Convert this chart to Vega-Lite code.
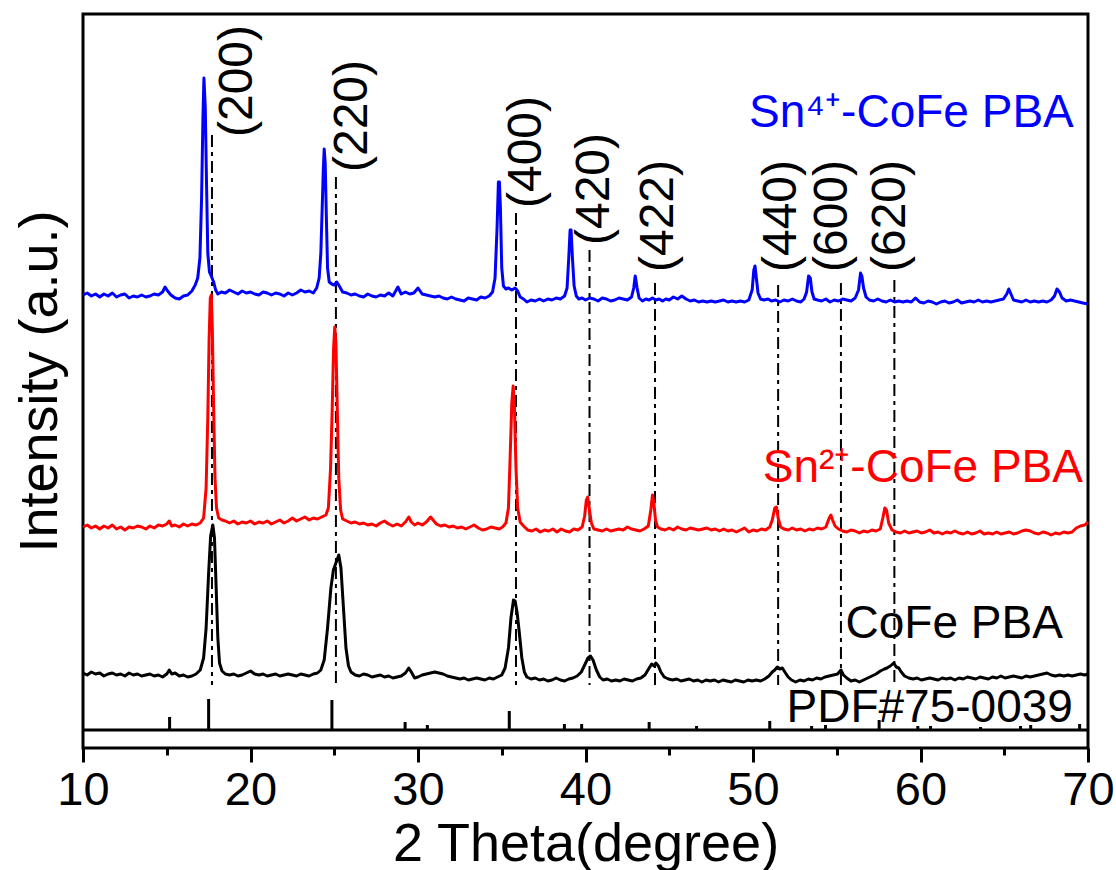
{
"$schema": "https://vega.github.io/schema/vega-lite/v6.json",
"width": 1005, "height": 734,
"autosize": {"type": "none"},
"padding": {"left": 83, "top": 14, "right": 28, "bottom": 122},
"background": "white",
"config": {"font": "Liberation Sans", "view": {"stroke": "black", "strokeWidth": 3}, "axis": {"grid": false}},
"datasets": {
"sn4": [
{"theta":10.0,"intensity":453},{"theta":10.25,"intensity":455},{"theta":10.5,"intensity":452},{"theta":10.75,"intensity":454},{"theta":11.0,"intensity":451},{"theta":11.25,"intensity":454},{"theta":11.5,"intensity":452},{"theta":11.75,"intensity":455},{"theta":12.0,"intensity":451},{"theta":12.25,"intensity":453},{"theta":12.5,"intensity":454},{"theta":12.75,"intensity":450},{"theta":13.0,"intensity":452},{"theta":13.25,"intensity":451},{"theta":13.5,"intensity":453},{"theta":13.75,"intensity":451},{"theta":14.0,"intensity":452},{"theta":14.25,"intensity":454},{"theta":14.5,"intensity":453},{"theta":14.75,"intensity":456},{"theta":14.9,"intensity":461},{"theta":15.05,"intensity":457},{"theta":15.25,"intensity":453},{"theta":15.5,"intensity":450},{"theta":15.75,"intensity":449},{"theta":16.0,"intensity":452},{"theta":16.25,"intensity":453},{"theta":16.5,"intensity":457},{"theta":16.7,"intensity":463},{"theta":16.85,"intensity":470},{"theta":16.98,"intensity":490},{"theta":17.08,"intensity":550},{"theta":17.16,"intensity":630},{"theta":17.22,"intensity":670},{"theta":17.3,"intensity":640},{"theta":17.38,"intensity":560},{"theta":17.45,"intensity":495},{"theta":17.55,"intensity":476},{"theta":17.68,"intensity":471},{"theta":17.8,"intensity":466},{"theta":17.92,"intensity":458},{"theta":18.05,"intensity":454},{"theta":18.25,"intensity":456},{"theta":18.5,"intensity":455},{"theta":18.75,"intensity":458},{"theta":19.0,"intensity":456},{"theta":19.25,"intensity":454},{"theta":19.5,"intensity":457},{"theta":19.75,"intensity":455},{"theta":20.0,"intensity":456},{"theta":20.25,"intensity":454},{"theta":20.5,"intensity":453},{"theta":20.75,"intensity":456},{"theta":21.0,"intensity":455},{"theta":21.25,"intensity":453},{"theta":21.5,"intensity":455},{"theta":21.75,"intensity":454},{"theta":22.0,"intensity":452},{"theta":22.25,"intensity":455},{"theta":22.5,"intensity":453},{"theta":22.75,"intensity":455},{"theta":23.0,"intensity":458},{"theta":23.25,"intensity":456},{"theta":23.5,"intensity":457},{"theta":23.75,"intensity":455},{"theta":23.95,"intensity":460},{"theta":24.1,"intensity":470},{"theta":24.2,"intensity":495},{"theta":24.28,"intensity":540},{"theta":24.35,"intensity":580},{"theta":24.4,"intensity":599},{"theta":24.46,"intensity":585},{"theta":24.53,"intensity":530},{"theta":24.6,"intensity":480},{"theta":24.7,"intensity":466},{"theta":24.85,"intensity":464},{"theta":25.0,"intensity":463},{"theta":25.15,"intensity":466},{"theta":25.3,"intensity":462},{"theta":25.5,"intensity":456},{"theta":25.75,"intensity":455},{"theta":26.0,"intensity":453},{"theta":26.25,"intensity":454},{"theta":26.5,"intensity":452},{"theta":26.75,"intensity":451},{"theta":27.0,"intensity":454},{"theta":27.25,"intensity":452},{"theta":27.5,"intensity":451},{"theta":27.75,"intensity":453},{"theta":28.0,"intensity":452},{"theta":28.25,"intensity":455},{"theta":28.5,"intensity":452},{"theta":28.8,"intensity":461},{"theta":29.0,"intensity":454},{"theta":29.25,"intensity":456},{"theta":29.5,"intensity":454},{"theta":29.75,"intensity":455},{"theta":30.0,"intensity":460},{"theta":30.25,"intensity":454},{"theta":30.5,"intensity":453},{"theta":30.75,"intensity":452},{"theta":31.0,"intensity":451},{"theta":31.25,"intensity":452},{"theta":31.5,"intensity":450},{"theta":31.75,"intensity":449},{"theta":32.0,"intensity":451},{"theta":32.25,"intensity":449},{"theta":32.5,"intensity":448},{"theta":32.75,"intensity":447},{"theta":33.0,"intensity":450},{"theta":33.25,"intensity":449},{"theta":33.5,"intensity":448},{"theta":33.75,"intensity":451},{"theta":34.0,"intensity":450},{"theta":34.25,"intensity":452},{"theta":34.45,"intensity":456},{"theta":34.6,"intensity":470},{"theta":34.72,"intensity":520},{"theta":34.8,"intensity":566},{"theta":34.86,"intensity":566},{"theta":34.92,"intensity":540},{"theta":35.0,"intensity":480},{"theta":35.1,"intensity":462},{"theta":35.25,"intensity":459},{"theta":35.4,"intensity":460},{"theta":35.6,"intensity":458},{"theta":35.8,"intensity":460},{"theta":35.95,"intensity":457},{"theta":36.1,"intensity":451},{"theta":36.3,"intensity":449},{"theta":36.5,"intensity":446},{"theta":36.75,"intensity":448},{"theta":37.0,"intensity":447},{"theta":37.25,"intensity":449},{"theta":37.5,"intensity":447},{"theta":37.75,"intensity":449},{"theta":38.0,"intensity":448},{"theta":38.25,"intensity":450},{"theta":38.5,"intensity":449},{"theta":38.75,"intensity":452},{"theta":38.9,"intensity":460},{"theta":39.0,"intensity":490},{"theta":39.08,"intensity":518},{"theta":39.14,"intensity":518},{"theta":39.22,"intensity":490},{"theta":39.32,"intensity":462},{"theta":39.45,"intensity":452},{"theta":39.6,"intensity":449},{"theta":39.8,"intensity":450},{"theta":40.0,"intensity":448},{"theta":40.25,"intensity":450},{"theta":40.5,"intensity":449},{"theta":40.75,"intensity":447},{"theta":41.0,"intensity":450},{"theta":41.25,"intensity":449},{"theta":41.5,"intensity":447},{"theta":41.75,"intensity":448},{"theta":42.0,"intensity":450},{"theta":42.25,"intensity":449},{"theta":42.5,"intensity":448},{"theta":42.75,"intensity":451},{"theta":42.88,"intensity":460},{"theta":42.97,"intensity":472},{"theta":43.08,"intensity":460},{"theta":43.2,"intensity":450},{"theta":43.4,"intensity":447},{"theta":43.6,"intensity":449},{"theta":43.8,"intensity":448},{"theta":44.0,"intensity":450},{"theta":44.2,"intensity":448},{"theta":44.4,"intensity":449},{"theta":44.6,"intensity":447},{"theta":44.8,"intensity":449},{"theta":45.0,"intensity":448},{"theta":45.25,"intensity":451},{"theta":45.5,"intensity":449},{"theta":45.75,"intensity":452},{"theta":46.0,"intensity":449},{"theta":46.25,"intensity":447},{"theta":46.5,"intensity":448},{"theta":46.75,"intensity":446},{"theta":47.0,"intensity":447},{"theta":47.25,"intensity":446},{"theta":47.5,"intensity":447},{"theta":47.75,"intensity":446},{"theta":48.0,"intensity":447},{"theta":48.25,"intensity":448},{"theta":48.5,"intensity":446},{"theta":48.75,"intensity":447},{"theta":49.0,"intensity":446},{"theta":49.25,"intensity":447},{"theta":49.5,"intensity":446},{"theta":49.75,"intensity":448},{"theta":49.95,"intensity":458},{"theta":50.05,"intensity":478},{"theta":50.12,"intensity":482},{"theta":50.2,"intensity":470},{"theta":50.3,"intensity":455},{"theta":50.45,"intensity":449},{"theta":50.65,"intensity":448},{"theta":50.9,"intensity":449},{"theta":51.1,"intensity":447},{"theta":51.35,"intensity":448},{"theta":51.6,"intensity":446},{"theta":51.85,"intensity":448},{"theta":52.1,"intensity":447},{"theta":52.35,"intensity":449},{"theta":52.6,"intensity":447},{"theta":52.85,"intensity":446},{"theta":53.05,"intensity":449},{"theta":53.2,"intensity":456},{"theta":53.32,"intensity":472},{"theta":53.42,"intensity":470},{"theta":53.52,"intensity":456},{"theta":53.65,"intensity":449},{"theta":53.85,"intensity":448},{"theta":54.1,"intensity":447},{"theta":54.35,"intensity":449},{"theta":54.6,"intensity":446},{"theta":54.85,"intensity":448},{"theta":55.1,"intensity":447},{"theta":55.35,"intensity":449},{"theta":55.6,"intensity":448},{"theta":55.85,"intensity":447},{"theta":56.1,"intensity":450},{"theta":56.3,"intensity":458},{"theta":56.42,"intensity":475},{"theta":56.5,"intensity":472},{"theta":56.6,"intensity":460},{"theta":56.75,"intensity":451},{"theta":56.95,"intensity":448},{"theta":57.2,"intensity":447},{"theta":57.45,"intensity":449},{"theta":57.7,"intensity":447},{"theta":57.95,"intensity":446},{"theta":58.2,"intensity":448},{"theta":58.45,"intensity":446},{"theta":58.7,"intensity":447},{"theta":58.95,"intensity":446},{"theta":59.2,"intensity":447},{"theta":59.45,"intensity":446},{"theta":59.7,"intensity":450},{"theta":59.95,"intensity":446},{"theta":60.2,"intensity":445},{"theta":60.45,"intensity":447},{"theta":60.7,"intensity":446},{"theta":60.95,"intensity":444},{"theta":61.2,"intensity":446},{"theta":61.45,"intensity":447},{"theta":61.7,"intensity":445},{"theta":61.95,"intensity":446},{"theta":62.2,"intensity":448},{"theta":62.45,"intensity":445},{"theta":62.7,"intensity":446},{"theta":62.95,"intensity":447},{"theta":63.2,"intensity":446},{"theta":63.45,"intensity":448},{"theta":63.7,"intensity":446},{"theta":63.95,"intensity":447},{"theta":64.2,"intensity":446},{"theta":64.45,"intensity":447},{"theta":64.7,"intensity":448},{"theta":64.95,"intensity":449},{"theta":65.15,"intensity":454},{"theta":65.27,"intensity":459},{"theta":65.4,"intensity":454},{"theta":65.55,"intensity":448},{"theta":65.8,"intensity":447},{"theta":66.05,"intensity":446},{"theta":66.3,"intensity":448},{"theta":66.55,"intensity":446},{"theta":66.8,"intensity":447},{"theta":67.05,"intensity":446},{"theta":67.3,"intensity":447},{"theta":67.55,"intensity":446},{"theta":67.8,"intensity":448},{"theta":68.0,"intensity":452},{"theta":68.15,"intensity":459},{"theta":68.3,"intensity":456},{"theta":68.45,"intensity":450},{"theta":68.7,"intensity":447},{"theta":68.95,"intensity":448},{"theta":69.2,"intensity":447},{"theta":69.45,"intensity":446},{"theta":69.7,"intensity":445},{"theta":70.0,"intensity":444}
],
"sn2": [
{"theta":10.0,"intensity":221},{"theta":10.25,"intensity":223},{"theta":10.5,"intensity":220},{"theta":10.75,"intensity":222},{"theta":11.0,"intensity":219},{"theta":11.25,"intensity":222},{"theta":11.5,"intensity":220},{"theta":11.75,"intensity":223},{"theta":12.0,"intensity":219},{"theta":12.25,"intensity":221},{"theta":12.5,"intensity":218},{"theta":12.75,"intensity":221},{"theta":13.0,"intensity":220},{"theta":13.25,"intensity":222},{"theta":13.5,"intensity":221},{"theta":13.75,"intensity":219},{"theta":14.0,"intensity":222},{"theta":14.25,"intensity":220},{"theta":14.5,"intensity":223},{"theta":14.75,"intensity":222},{"theta":15.0,"intensity":224},{"theta":15.15,"intensity":227},{"theta":15.3,"intensity":222},{"theta":15.5,"intensity":223},{"theta":15.75,"intensity":221},{"theta":16.0,"intensity":224},{"theta":16.25,"intensity":222},{"theta":16.5,"intensity":224},{"theta":16.75,"intensity":223},{"theta":17.0,"intensity":225},{"theta":17.2,"intensity":230},{"theta":17.35,"intensity":260},{"theta":17.45,"intensity":330},{"theta":17.53,"intensity":410},{"theta":17.6,"intensity":450},{"theta":17.66,"intensity":453},{"theta":17.72,"intensity":420},{"theta":17.8,"intensity":340},{"theta":17.88,"intensity":270},{"theta":17.97,"intensity":240},{"theta":18.1,"intensity":230},{"theta":18.3,"intensity":228},{"theta":18.5,"intensity":227},{"theta":18.75,"intensity":225},{"theta":19.0,"intensity":227},{"theta":19.25,"intensity":224},{"theta":19.5,"intensity":226},{"theta":19.75,"intensity":225},{"theta":20.0,"intensity":227},{"theta":20.25,"intensity":224},{"theta":20.5,"intensity":226},{"theta":20.75,"intensity":225},{"theta":21.0,"intensity":227},{"theta":21.25,"intensity":224},{"theta":21.5,"intensity":226},{"theta":21.75,"intensity":228},{"theta":22.0,"intensity":225},{"theta":22.25,"intensity":227},{"theta":22.5,"intensity":230},{"theta":22.75,"intensity":227},{"theta":23.0,"intensity":229},{"theta":23.25,"intensity":231},{"theta":23.5,"intensity":228},{"theta":23.75,"intensity":230},{"theta":24.0,"intensity":229},{"theta":24.25,"intensity":231},{"theta":24.5,"intensity":233},{"theta":24.65,"intensity":240},{"theta":24.78,"intensity":280},{"theta":24.88,"intensity":340},{"theta":24.96,"intensity":400},{"theta":25.03,"intensity":421},{"theta":25.1,"intensity":405},{"theta":25.18,"intensity":340},{"theta":25.27,"intensity":270},{"theta":25.38,"intensity":238},{"theta":25.5,"intensity":229},{"theta":25.75,"intensity":227},{"theta":26.0,"intensity":225},{"theta":26.25,"intensity":226},{"theta":26.5,"intensity":224},{"theta":26.75,"intensity":225},{"theta":27.0,"intensity":223},{"theta":27.25,"intensity":224},{"theta":27.5,"intensity":222},{"theta":27.75,"intensity":225},{"theta":28.0,"intensity":227},{"theta":28.25,"intensity":224},{"theta":28.5,"intensity":222},{"theta":28.75,"intensity":224},{"theta":29.0,"intensity":222},{"theta":29.25,"intensity":226},{"theta":29.45,"intensity":231},{"theta":29.6,"intensity":226},{"theta":29.8,"intensity":223},{"theta":30.0,"intensity":225},{"theta":30.25,"intensity":223},{"theta":30.5,"intensity":226},{"theta":30.75,"intensity":231},{"theta":30.9,"intensity":228},{"theta":31.1,"intensity":224},{"theta":31.35,"intensity":222},{"theta":31.6,"intensity":223},{"theta":31.85,"intensity":221},{"theta":32.1,"intensity":222},{"theta":32.35,"intensity":220},{"theta":32.6,"intensity":221},{"theta":32.85,"intensity":219},{"theta":33.1,"intensity":221},{"theta":33.35,"intensity":223},{"theta":33.6,"intensity":220},{"theta":33.85,"intensity":218},{"theta":34.1,"intensity":219},{"theta":34.35,"intensity":221},{"theta":34.6,"intensity":220},{"theta":34.85,"intensity":219},{"theta":35.05,"intensity":221},{"theta":35.25,"intensity":225},{"theta":35.4,"intensity":240},{"theta":35.5,"intensity":290},{"theta":35.6,"intensity":345},{"theta":35.68,"intensity":362},{"theta":35.76,"intensity":340},{"theta":35.85,"intensity":280},{"theta":35.95,"intensity":240},{"theta":36.1,"intensity":226},{"theta":36.3,"intensity":222},{"theta":36.55,"intensity":218},{"theta":36.8,"intensity":217},{"theta":37.05,"intensity":219},{"theta":37.3,"intensity":216},{"theta":37.55,"intensity":218},{"theta":37.8,"intensity":217},{"theta":38.05,"intensity":219},{"theta":38.3,"intensity":216},{"theta":38.55,"intensity":219},{"theta":38.8,"intensity":217},{"theta":39.05,"intensity":216},{"theta":39.3,"intensity":219},{"theta":39.55,"intensity":218},{"theta":39.8,"intensity":221},{"theta":39.95,"intensity":232},{"theta":40.05,"intensity":248},{"theta":40.13,"intensity":251},{"theta":40.22,"intensity":240},{"theta":40.35,"intensity":225},{"theta":40.5,"intensity":219},{"theta":40.75,"intensity":218},{"theta":41.0,"intensity":217},{"theta":41.25,"intensity":219},{"theta":41.5,"intensity":217},{"theta":41.75,"intensity":218},{"theta":42.0,"intensity":219},{"theta":42.25,"intensity":218},{"theta":42.5,"intensity":221},{"theta":42.75,"intensity":219},{"theta":43.0,"intensity":218},{"theta":43.25,"intensity":217},{"theta":43.5,"intensity":219},{"theta":43.75,"intensity":222},{"theta":43.9,"intensity":238},{"theta":44.0,"intensity":253},{"theta":44.08,"intensity":245},{"theta":44.18,"intensity":228},{"theta":44.3,"intensity":221},{"theta":44.5,"intensity":219},{"theta":44.75,"intensity":218},{"theta":45.0,"intensity":220},{"theta":45.25,"intensity":218},{"theta":45.5,"intensity":221},{"theta":45.75,"intensity":219},{"theta":46.0,"intensity":218},{"theta":46.25,"intensity":220},{"theta":46.5,"intensity":219},{"theta":46.75,"intensity":218},{"theta":47.0,"intensity":219},{"theta":47.25,"intensity":220},{"theta":47.5,"intensity":218},{"theta":47.75,"intensity":219},{"theta":48.0,"intensity":217},{"theta":48.25,"intensity":219},{"theta":48.5,"intensity":217},{"theta":48.75,"intensity":218},{"theta":49.0,"intensity":216},{"theta":49.25,"intensity":218},{"theta":49.5,"intensity":220},{"theta":49.75,"intensity":216},{"theta":50.0,"intensity":218},{"theta":50.25,"intensity":217},{"theta":50.5,"intensity":219},{"theta":50.75,"intensity":218},{"theta":51.0,"intensity":221},{"theta":51.15,"intensity":228},{"theta":51.3,"intensity":240},{"theta":51.4,"intensity":241},{"theta":51.5,"intensity":230},{"theta":51.65,"intensity":221},{"theta":51.85,"intensity":219},{"theta":52.1,"intensity":218},{"theta":52.35,"intensity":220},{"theta":52.6,"intensity":218},{"theta":52.85,"intensity":219},{"theta":53.1,"intensity":217},{"theta":53.35,"intensity":219},{"theta":53.6,"intensity":218},{"theta":53.85,"intensity":220},{"theta":54.1,"intensity":219},{"theta":54.35,"intensity":221},{"theta":54.55,"intensity":230},{"theta":54.65,"intensity":233},{"theta":54.75,"intensity":228},{"theta":54.9,"intensity":222},{"theta":55.1,"intensity":219},{"theta":55.35,"intensity":217},{"theta":55.6,"intensity":216},{"theta":55.85,"intensity":218},{"theta":56.1,"intensity":217},{"theta":56.35,"intensity":215},{"theta":56.6,"intensity":217},{"theta":56.85,"intensity":216},{"theta":57.1,"intensity":218},{"theta":57.35,"intensity":217},{"theta":57.6,"intensity":219},{"theta":57.75,"intensity":230},{"theta":57.87,"intensity":240},{"theta":57.97,"intensity":238},{"theta":58.1,"intensity":225},{"theta":58.3,"intensity":218},{"theta":58.55,"intensity":216},{"theta":58.8,"intensity":215},{"theta":59.05,"intensity":217},{"theta":59.3,"intensity":215},{"theta":59.55,"intensity":216},{"theta":59.8,"intensity":217},{"theta":60.05,"intensity":215},{"theta":60.3,"intensity":216},{"theta":60.55,"intensity":218},{"theta":60.8,"intensity":215},{"theta":61.05,"intensity":216},{"theta":61.3,"intensity":214},{"theta":61.55,"intensity":216},{"theta":61.8,"intensity":215},{"theta":62.05,"intensity":217},{"theta":62.3,"intensity":215},{"theta":62.55,"intensity":214},{"theta":62.8,"intensity":216},{"theta":63.05,"intensity":214},{"theta":63.3,"intensity":215},{"theta":63.55,"intensity":217},{"theta":63.8,"intensity":214},{"theta":64.05,"intensity":215},{"theta":64.3,"intensity":214},{"theta":64.55,"intensity":216},{"theta":64.8,"intensity":214},{"theta":65.05,"intensity":215},{"theta":65.3,"intensity":216},{"theta":65.55,"intensity":214},{"theta":65.8,"intensity":215},{"theta":66.05,"intensity":217},{"theta":66.3,"intensity":218},{"theta":66.55,"intensity":217},{"theta":66.8,"intensity":215},{"theta":67.05,"intensity":214},{"theta":67.3,"intensity":216},{"theta":67.55,"intensity":215},{"theta":67.8,"intensity":213},{"theta":68.05,"intensity":215},{"theta":68.3,"intensity":214},{"theta":68.55,"intensity":216},{"theta":68.8,"intensity":215},{"theta":69.05,"intensity":216},{"theta":69.3,"intensity":220},{"theta":69.55,"intensity":222},{"theta":69.8,"intensity":223},{"theta":70.0,"intensity":226}
],
"cofe": [
{"theta":10.0,"intensity":75},{"theta":10.25,"intensity":73},{"theta":10.5,"intensity":76},{"theta":10.75,"intensity":74},{"theta":11.0,"intensity":75},{"theta":11.25,"intensity":72},{"theta":11.5,"intensity":74},{"theta":11.75,"intensity":75},{"theta":12.0,"intensity":73},{"theta":12.25,"intensity":74},{"theta":12.5,"intensity":72},{"theta":12.75,"intensity":75},{"theta":13.0,"intensity":73},{"theta":13.25,"intensity":74},{"theta":13.5,"intensity":72},{"theta":13.75,"intensity":73},{"theta":14.0,"intensity":74},{"theta":14.25,"intensity":72},{"theta":14.5,"intensity":73},{"theta":14.75,"intensity":71},{"theta":15.0,"intensity":74},{"theta":15.15,"intensity":78},{"theta":15.3,"intensity":74},{"theta":15.5,"intensity":75},{"theta":15.75,"intensity":72},{"theta":16.0,"intensity":73},{"theta":16.25,"intensity":71},{"theta":16.5,"intensity":72},{"theta":16.75,"intensity":74},{"theta":17.0,"intensity":78},{"theta":17.2,"intensity":90},{"theta":17.35,"intensity":120},{"theta":17.5,"intensity":175},{"theta":17.62,"intensity":212},{"theta":17.75,"intensity":223},{"theta":17.85,"intensity":210},{"theta":17.95,"intensity":160},{"theta":18.05,"intensity":110},{"theta":18.15,"intensity":85},{"theta":18.3,"intensity":77},{"theta":18.5,"intensity":74},{"theta":18.75,"intensity":73},{"theta":19.0,"intensity":74},{"theta":19.25,"intensity":72},{"theta":19.5,"intensity":73},{"theta":19.75,"intensity":75},{"theta":20.0,"intensity":77},{"theta":20.25,"intensity":74},{"theta":20.5,"intensity":73},{"theta":20.75,"intensity":74},{"theta":21.0,"intensity":72},{"theta":21.25,"intensity":73},{"theta":21.5,"intensity":74},{"theta":21.75,"intensity":72},{"theta":22.0,"intensity":73},{"theta":22.25,"intensity":74},{"theta":22.5,"intensity":73},{"theta":22.75,"intensity":72},{"theta":23.0,"intensity":74},{"theta":23.25,"intensity":73},{"theta":23.5,"intensity":72},{"theta":23.75,"intensity":74},{"theta":24.0,"intensity":75},{"theta":24.2,"intensity":78},{"theta":24.4,"intensity":88},{"theta":24.6,"intensity":120},{"theta":24.8,"intensity":160},{"theta":24.95,"intensity":178},{"theta":25.1,"intensity":185},{"theta":25.27,"intensity":193},{"theta":25.4,"intensity":180},{"theta":25.55,"intensity":140},{"theta":25.7,"intensity":100},{"theta":25.85,"intensity":82},{"theta":26.0,"intensity":76},{"theta":26.25,"intensity":73},{"theta":26.5,"intensity":72},{"theta":26.75,"intensity":74},{"theta":27.0,"intensity":73},{"theta":27.25,"intensity":71},{"theta":27.5,"intensity":72},{"theta":27.75,"intensity":73},{"theta":28.0,"intensity":71},{"theta":28.25,"intensity":72},{"theta":28.5,"intensity":70},{"theta":28.75,"intensity":71},{"theta":29.0,"intensity":72},{"theta":29.25,"intensity":75},{"theta":29.45,"intensity":80},{"theta":29.6,"intensity":76},{"theta":29.8,"intensity":70},{"theta":30.0,"intensity":71},{"theta":30.25,"intensity":73},{"theta":30.5,"intensity":74},{"theta":30.75,"intensity":75},{"theta":31.0,"intensity":76},{"theta":31.25,"intensity":75},{"theta":31.5,"intensity":74},{"theta":31.75,"intensity":72},{"theta":32.0,"intensity":71},{"theta":32.25,"intensity":70},{"theta":32.5,"intensity":69},{"theta":32.75,"intensity":70},{"theta":33.0,"intensity":68},{"theta":33.25,"intensity":69},{"theta":33.5,"intensity":70},{"theta":33.75,"intensity":69},{"theta":34.0,"intensity":68},{"theta":34.25,"intensity":70},{"theta":34.5,"intensity":69},{"theta":34.75,"intensity":71},{"theta":35.0,"intensity":73},{"theta":35.2,"intensity":80},{"theta":35.4,"intensity":100},{"theta":35.55,"intensity":130},{"theta":35.7,"intensity":148},{"theta":35.8,"intensity":147},{"theta":35.92,"intensity":135},{"theta":36.05,"intensity":115},{"theta":36.2,"intensity":90},{"theta":36.35,"intensity":76},{"theta":36.5,"intensity":71},{"theta":36.75,"intensity":69},{"theta":37.0,"intensity":70},{"theta":37.25,"intensity":68},{"theta":37.5,"intensity":69},{"theta":37.75,"intensity":67},{"theta":38.0,"intensity":68},{"theta":38.25,"intensity":70},{"theta":38.5,"intensity":68},{"theta":38.75,"intensity":67},{"theta":39.0,"intensity":69},{"theta":39.25,"intensity":70},{"theta":39.5,"intensity":72},{"theta":39.75,"intensity":76},{"theta":39.95,"intensity":83},{"theta":40.15,"intensity":90},{"theta":40.3,"intensity":92},{"theta":40.45,"intensity":88},{"theta":40.65,"intensity":78},{"theta":40.85,"intensity":71},{"theta":41.05,"intensity":68},{"theta":41.3,"intensity":69},{"theta":41.55,"intensity":67},{"theta":41.8,"intensity":68},{"theta":42.05,"intensity":67},{"theta":42.3,"intensity":69},{"theta":42.55,"intensity":68},{"theta":42.8,"intensity":67},{"theta":43.05,"intensity":69},{"theta":43.3,"intensity":70},{"theta":43.55,"intensity":73},{"theta":43.8,"intensity":80},{"theta":43.95,"intensity":84},{"theta":44.1,"intensity":82},{"theta":44.2,"intensity":85},{"theta":44.35,"intensity":82},{"theta":44.5,"intensity":76},{"theta":44.7,"intensity":71},{"theta":44.95,"intensity":69},{"theta":45.2,"intensity":68},{"theta":45.45,"intensity":69},{"theta":45.7,"intensity":67},{"theta":45.95,"intensity":68},{"theta":46.2,"intensity":69},{"theta":46.45,"intensity":67},{"theta":46.7,"intensity":68},{"theta":46.95,"intensity":66},{"theta":47.2,"intensity":68},{"theta":47.45,"intensity":67},{"theta":47.7,"intensity":68},{"theta":47.95,"intensity":66},{"theta":48.2,"intensity":68},{"theta":48.45,"intensity":67},{"theta":48.7,"intensity":66},{"theta":48.95,"intensity":68},{"theta":49.2,"intensity":67},{"theta":49.45,"intensity":66},{"theta":49.7,"intensity":68},{"theta":49.95,"intensity":67},{"theta":50.2,"intensity":68},{"theta":50.45,"intensity":67},{"theta":50.7,"intensity":69},{"theta":50.95,"intensity":72},{"theta":51.15,"intensity":76},{"theta":51.3,"intensity":78},{"theta":51.45,"intensity":81},{"theta":51.6,"intensity":79},{"theta":51.75,"intensity":80},{"theta":51.9,"intensity":76},{"theta":52.1,"intensity":71},{"theta":52.3,"intensity":68},{"theta":52.55,"intensity":66},{"theta":52.8,"intensity":68},{"theta":53.05,"intensity":67},{"theta":53.3,"intensity":69},{"theta":53.55,"intensity":68},{"theta":53.8,"intensity":70},{"theta":54.05,"intensity":69},{"theta":54.3,"intensity":71},{"theta":54.55,"intensity":72},{"theta":54.8,"intensity":73},{"theta":55.05,"intensity":74},{"theta":55.25,"intensity":78},{"theta":55.4,"intensity":73},{"theta":55.6,"intensity":70},{"theta":55.85,"intensity":67},{"theta":56.1,"intensity":68},{"theta":56.35,"intensity":66},{"theta":56.6,"intensity":68},{"theta":56.85,"intensity":70},{"theta":57.1,"intensity":72},{"theta":57.35,"intensity":74},{"theta":57.6,"intensity":77},{"theta":57.85,"intensity":79},{"theta":58.0,"intensity":80},{"theta":58.2,"intensity":82},{"theta":58.4,"intensity":85},{"theta":58.55,"intensity":81},{"theta":58.7,"intensity":80},{"theta":58.85,"intensity":76},{"theta":59.05,"intensity":72},{"theta":59.3,"intensity":70},{"theta":59.55,"intensity":69},{"theta":59.8,"intensity":70},{"theta":60.05,"intensity":68},{"theta":60.3,"intensity":69},{"theta":60.55,"intensity":70},{"theta":60.8,"intensity":69},{"theta":61.05,"intensity":68},{"theta":61.3,"intensity":70},{"theta":61.55,"intensity":69},{"theta":61.8,"intensity":70},{"theta":62.05,"intensity":68},{"theta":62.3,"intensity":70},{"theta":62.55,"intensity":69},{"theta":62.8,"intensity":71},{"theta":63.05,"intensity":70},{"theta":63.3,"intensity":69},{"theta":63.55,"intensity":71},{"theta":63.8,"intensity":70},{"theta":64.05,"intensity":69},{"theta":64.3,"intensity":71},{"theta":64.55,"intensity":70},{"theta":64.8,"intensity":72},{"theta":65.05,"intensity":70},{"theta":65.3,"intensity":71},{"theta":65.55,"intensity":72},{"theta":65.8,"intensity":71},{"theta":66.05,"intensity":70},{"theta":66.3,"intensity":72},{"theta":66.55,"intensity":71},{"theta":66.8,"intensity":72},{"theta":67.05,"intensity":73},{"theta":67.3,"intensity":74},{"theta":67.55,"intensity":75},{"theta":67.8,"intensity":73},{"theta":68.05,"intensity":72},{"theta":68.3,"intensity":73},{"theta":68.55,"intensity":72},{"theta":68.8,"intensity":73},{"theta":69.05,"intensity":72},{"theta":69.3,"intensity":73},{"theta":69.55,"intensity":74},{"theta":69.8,"intensity":73},{"theta":70.0,"intensity":74}
],
"pdf": [
{"theta":15.17,"top":31},{"theta":17.5,"top":49},{"theta":24.86,"top":48},{"theta":29.23,"top":26},{"theta":30.56,"top":23},{"theta":35.45,"top":37},{"theta":38.74,"top":24},{"theta":39.77,"top":24},{"theta":43.8,"top":26},{"theta":46.63,"top":22},{"theta":51.0,"top":27},{"theta":53.5,"top":22},{"theta":54.33,"top":23},{"theta":57.53,"top":28},{"theta":59.84,"top":22},{"theta":60.6,"top":22},{"theta":63.58,"top":21},{"theta":65.97,"top":22},{"theta":66.58,"top":23},{"theta":69.5,"top":24}
],
"hkl": [
{"hkl":"(200)","theta":17.7,"top":613,"labelTheta":19.24,"labelY":611},
{"hkl":"(220)","theta":25.1,"top":571,"labelTheta":26.1,"labelY":576},
{"hkl":"(400)","theta":35.85,"top":535,"labelTheta":36.48,"labelY":540},
{"hkl":"(420)","theta":40.24,"top":498,"labelTheta":40.54,"labelY":503},
{"hkl":"(422)","theta":44.15,"top":465,"labelTheta":44.36,"labelY":476},
{"hkl":"(440)","theta":51.5,"top":463,"labelTheta":51.76,"labelY":476},
{"hkl":"(600)","theta":55.25,"top":465,"labelTheta":54.77,"labelY":476},
{"hkl":"(620)","theta":58.44,"top":468,"labelTheta":58.26,"labelY":476}
],
"names": [
{"label":"Sn⁴⁺-CoFe PBA","theta":69.15,"intensity":621},
{"label":"Sn²⁺-CoFe PBA","theta":69.7,"intensity":266},
{"label":"CoFe PBA","theta":68.5,"intensity":110},
{"label":"PDF#75-0039","theta":69.1,"intensity":26}
]
},
"layer": [
{
"data": {"values": [{"baseline": "PDF#75-0039"}]},
"mark": {"type": "rule", "color": "black", "strokeWidth": 3},
"encoding": {
"y": {"datum": 18, "type": "quantitative", "scale": {"domain": [0, 734], "nice": false, "zero": false},
"axis": {"title": "Intensity (a.u.)", "ticks": false, "labels": false, "domain": false, "grid": false, "titleFontSize": 54, "titleFontWeight": "normal", "titleColor": "black", "titleFont": "Liberation Sans", "titlePadding": 16}}
}
},
{
"data": {"name": "pdf"},
"mark": {"type": "rule", "color": "black", "strokeWidth": 3},
"encoding": {
"x": {"field": "theta", "type": "quantitative", "scale": {"domain": [10, 70], "nice": false, "zero": false},
"axis": {"orient": "bottom", "values": [15, 25, 35, 45, 55, 65], "tickSize": 7, "tickWidth": 3, "tickColor": "black", "labels": false, "domain": false, "grid": false, "title": null}},
"y": {"field": "top", "type": "quantitative", "scale": {"domain": [0, 734], "nice": false, "zero": false},
"axis": {"title": "Intensity (a.u.)", "ticks": false, "labels": false, "domain": false, "grid": false, "titleFontSize": 54, "titleFontWeight": "normal", "titleColor": "black", "titleFont": "Liberation Sans", "titlePadding": 16}},
"y2": {"datum": 18}
}
},
{
"data": {"name": "hkl"},
"mark": {"type": "rule", "color": "black", "strokeWidth": 2, "strokeDash": [12, 5, 4, 5]},
"encoding": {
"x": {"field": "theta", "type": "quantitative", "scale": {"domain": [10, 70], "nice": false, "zero": false}, "axis": null},
"y": {"field": "top", "type": "quantitative", "scale": {"domain": [0, 734], "nice": false, "zero": false},
"axis": {"title": "Intensity (a.u.)", "ticks": false, "labels": false, "domain": false, "grid": false, "titleFontSize": 54, "titleFontWeight": "normal", "titleColor": "black", "titleFont": "Liberation Sans", "titlePadding": 16}},
"y2": {"datum": 63}
}
},
{
"data": {"name": "cofe"},
"mark": {"type": "line", "color": "black", "strokeWidth": 3, "strokeJoin": "round"},
"encoding": {
"x": {"field": "theta", "type": "quantitative", "scale": {"domain": [10, 70], "nice": false, "zero": false},
"axis": {"orient": "bottom", "values": [10, 20, 30, 40, 50, 60, 70], "tickSize": 14, "tickWidth": 3, "tickColor": "black", "domain": false, "grid": false, "labelFontSize": 47, "labelColor": "black", "labelFont": "Liberation Sans", "labelPadding": 5, "labelFlush": false, "labelOverlap": false, "title": "2 Theta(degree)", "titleFontSize": 54, "titleFontWeight": "normal", "titleColor": "black", "titleFont": "Liberation Sans", "titlePadding": 4}},
"y": {"field": "intensity", "type": "quantitative", "scale": {"domain": [0, 734], "nice": false, "zero": false},
"axis": {"title": "Intensity (a.u.)", "ticks": false, "labels": false, "domain": false, "grid": false, "titleFontSize": 54, "titleFontWeight": "normal", "titleColor": "black", "titleFont": "Liberation Sans", "titlePadding": 16}}
}
},
{
"data": {"name": "sn2"},
"mark": {"type": "line", "color": "#ff0000", "strokeWidth": 3, "strokeJoin": "round"},
"encoding": {
"x": {"field": "theta", "type": "quantitative", "scale": {"domain": [10, 70], "nice": false, "zero": false}, "axis": null},
"y": {"field": "intensity", "type": "quantitative", "scale": {"domain": [0, 734], "nice": false, "zero": false},
"axis": {"title": "Intensity (a.u.)", "ticks": false, "labels": false, "domain": false, "grid": false, "titleFontSize": 54, "titleFontWeight": "normal", "titleColor": "black", "titleFont": "Liberation Sans", "titlePadding": 16}}
}
},
{
"data": {"name": "sn4"},
"mark": {"type": "line", "color": "#0000ff", "strokeWidth": 3, "strokeJoin": "round"},
"encoding": {
"x": {"field": "theta", "type": "quantitative", "scale": {"domain": [10, 70], "nice": false, "zero": false}, "axis": null},
"y": {"field": "intensity", "type": "quantitative", "scale": {"domain": [0, 734], "nice": false, "zero": false},
"axis": {"title": "Intensity (a.u.)", "ticks": false, "labels": false, "domain": false, "grid": false, "titleFontSize": 54, "titleFontWeight": "normal", "titleColor": "black", "titleFont": "Liberation Sans", "titlePadding": 16}}
}
},
{
"data": {"name": "hkl"},
"mark": {"type": "text", "angle": 270, "align": "left", "baseline": "middle", "fontSize": 48, "font": "Liberation Sans", "color": "black"},
"encoding": {
"x": {"field": "labelTheta", "type": "quantitative", "scale": {"domain": [10, 70], "nice": false, "zero": false}, "axis": null},
"y": {"field": "labelY", "type": "quantitative", "scale": {"domain": [0, 734], "nice": false, "zero": false},
"axis": {"title": "Intensity (a.u.)", "ticks": false, "labels": false, "domain": false, "grid": false, "titleFontSize": 54, "titleFontWeight": "normal", "titleColor": "black", "titleFont": "Liberation Sans", "titlePadding": 16}},
"text": {"field": "hkl"}
}
},
{
"data": {"name": "names"},
"mark": {"type": "text", "align": "right", "baseline": "alphabetic", "fontSize": 46, "font": "Liberation Sans"},
"encoding": {
"x": {"field": "theta", "type": "quantitative", "scale": {"domain": [10, 70], "nice": false, "zero": false}, "axis": null},
"y": {"field": "intensity", "type": "quantitative", "scale": {"domain": [0, 734], "nice": false, "zero": false},
"axis": {"title": "Intensity (a.u.)", "ticks": false, "labels": false, "domain": false, "grid": false, "titleFontSize": 54, "titleFontWeight": "normal", "titleColor": "black", "titleFont": "Liberation Sans", "titlePadding": 16}},
"text": {"field": "label"},
"color": {"field": "label", "type": "nominal", "scale": {"domain": ["Sn⁴⁺-CoFe PBA", "Sn²⁺-CoFe PBA", "CoFe PBA", "PDF#75-0039"], "range": ["#0000ff", "#ff0000", "#000000", "#000000"]}, "legend": null}
}
}
],
"resolve": {"axis": {"x": "independent"}}
}
